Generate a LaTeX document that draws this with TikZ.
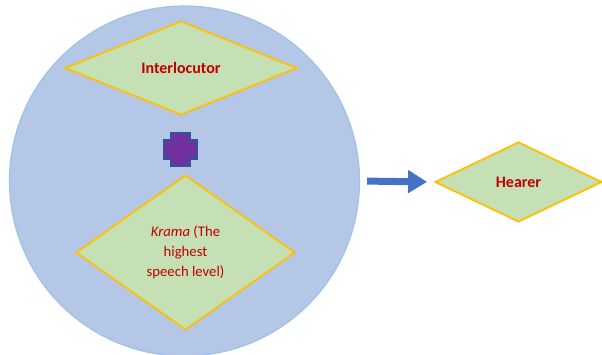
\documentclass[tikz,border=0pt]{standalone}
\usepackage{fontspec}
\setmainfont{Carlito}
\usepackage{tikz}
\usetikzlibrary{shapes.geometric,arrows.meta}

\definecolor{bubble}{HTML}{B4C7E7}
\definecolor{bubbleline}{HTML}{9DC3E6}
\definecolor{leaf}{HTML}{C5E0B4}
\definecolor{gold}{HTML}{FFC000}
\definecolor{wine}{HTML}{C00000}
\definecolor{plum}{HTML}{7030A0}
\definecolor{navy}{HTML}{2F5597}
\definecolor{royal}{HTML}{4472C4}

\begin{document}
\begin{tikzpicture}[x=1pt,y=-1pt,
		level/.style={diamond,draw=gold,fill=leaf,line width=1.8pt,inner sep=0pt,
			text=wine,align=center,font=\fontsize{14.7}{19.8}\selectfont},
		title/.style={font=\fontsize{16}{18}\selectfont\bfseries},
		pointer/.style={draw=royal,line width=7pt,-{Triangle[length=19pt,width=22pt]}}]
		\useasboundingbox (0,0) rectangle (602,354);
		\node [circle,fill=bubble,draw=bubbleline,line width=1.2pt,minimum size=350pt] (group) at (184.5,181) {};
		\node [level,title,minimum width=232pt,minimum height=94pt] (interlocutor) at (181,68) {Interlocutor};
		\node [level,minimum width=219pt,minimum height=155pt] (krama) at (185.5,252.5) {\textit{Krama} (The\\highest\\speech level)};
		\node [level,title,minimum width=167pt,minimum height=80pt] (hearer) at (518.5,182) {Hearer};
		% plus sign between the two levels
		\draw[fill=plum,draw=navy,line width=1.5pt] (171,133) -- (190,133) -- (190,140) -- (197,140) -- (197,159) -- (190,159) -- (190,166) -- (171,166) -- (171,159) -- (164,159) -- (164,140) -- (171,140) -- cycle;
		\draw[pointer,shorten <=7pt,shorten >=7pt] (group.east) -- (hearer.west);
		\end{tikzpicture}
\end{document}
